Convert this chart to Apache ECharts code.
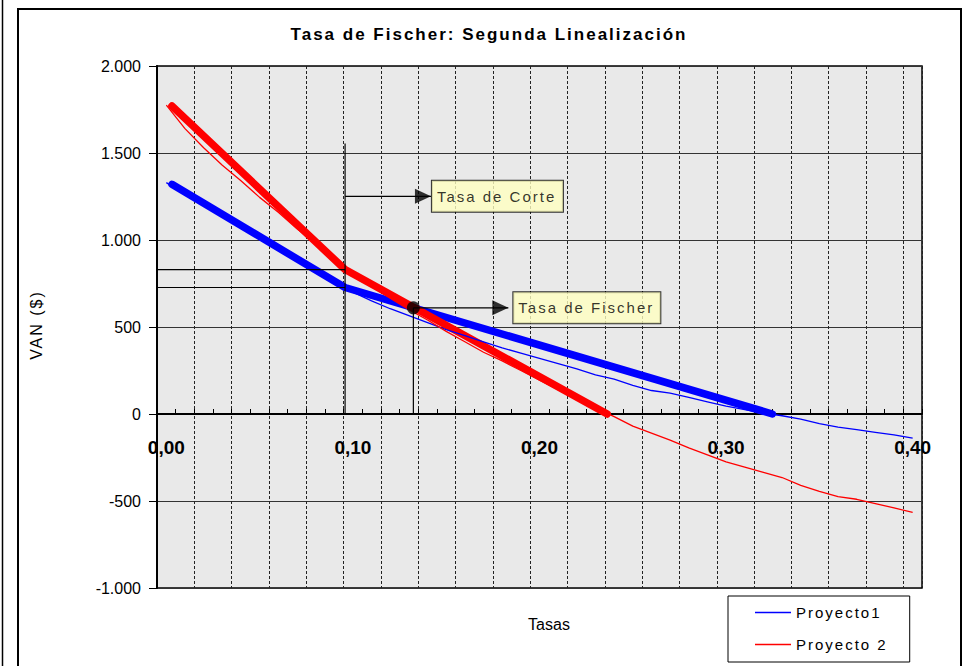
<!DOCTYPE html>
<html>
<head>
<meta charset="utf-8">
<script src="https://cdn.jsdelivr.net/npm/echarts@6/dist/echarts.min.js"></script>
<style>
  html, body { margin: 0; padding: 0; background: #fff; }
  #chart { width: 967px; height: 666px; }
  /* texts set in the "spaced" family get wider letter spacing */
  #chart text[style*="sans-serif"],
  #chart text[font-family*="sans-serif"] { letter-spacing: 2px; }
</style>
</head>
<body>
<div id="chart"></div>
<script>
// Discount rates (x categories)
const rates = [
  0.00, 0.01, 0.02, 0.03, 0.04, 0.05, 0.06, 0.07, 0.08, 0.09,
  0.10, 0.11, 0.12, 0.13, 0.14, 0.15, 0.16, 0.17, 0.18, 0.19,
  0.20, 0.21, 0.22, 0.23, 0.24, 0.25, 0.26, 0.27, 0.28, 0.29,
  0.30, 0.31, 0.32, 0.33, 0.34, 0.35, 0.36, 0.37, 0.38, 0.39, 0.40
];

// Net present value of each project at every rate
const vanProyecto1 = [
  1330, 1262, 1200, 1135, 1070, 1005, 940, 878, 815, 755,
  700, 650, 605, 565, 525, 485, 450, 415, 380, 350,
  320, 290, 260, 225, 200, 165, 135, 120, 95, 70,
  45, 25, 5, -10, -30, -55, -75, -90, -105, -120, -139
];
const vanProyecto2 = [
  1775, 1640, 1530, 1430, 1340, 1245, 1160, 1065, 980, 880,
  800, 735, 665, 600, 540, 475, 415, 355, 305, 250,
  195, 140, 90, 35, -15, -70, -110, -150, -195, -235,
  -275, -305, -335, -365, -410, -445, -475, -490, -515, -540, -566
];

// Second linearization: start, cut rate, internal rate of return
const lineal1X = [0.003, 0.0958, 0.3248];
const lineal1Y = [1320, 727, 0];
const lineal2X = [0.003, 0.0958, 0.2363];
const lineal2Y = [1770, 830, 0];

// Cut-rate marker and Fischer rate (crossing of both linearizations)
const tasaCorte = 0.0958;
const corteTopVan = 1555;
const corteFlechaVan = 1251;
const corteFlechaFin = 0.1418;
const fischerTasa = 0.1324;
const fischerVan = 610;
const fischerFlechaFin = 0.1833;

// Y-axis ticks and their labels
const yTicks = [-1000, -500, 0, 500, 1000, 1500, 2000];
const yTickLabels = ['-1.000', '-500', '0', '500', '1.000', '1.500', '2.000'];

const rateLabels = rates.map(r => r.toFixed(2).replace('.', ','));
const FONT = 'Liberation Sans, Arial';            // plain lettering
const FONT_SP = 'Liberation Sans, sans-serif';    // spaced lettering

const pairs = (xs, ys) => xs.map((x, i) => [x, ys[i]]);

const chart = echarts.init(document.getElementById('chart'), null, { renderer: 'svg' });

const thin = (name, vals, color) => ({
  name, type: 'line', xAxisIndex: 1, yAxisIndex: 0,
  data: pairs(rates, vals), symbol: 'none', z: 5,
  lineStyle: { color, width: 1.3 }, itemStyle: { color }
});
const thick = (name, xs, ys, color, z) => ({
  name, type: 'line', xAxisIndex: 1, yAxisIndex: 0,
  data: pairs(xs, ys), symbol: 'none', z,
  lineStyle: { color, width: 7.5, cap: 'round', join: 'round' }, itemStyle: { color }
});
const guide = (data) => ({
  type: 'line', xAxisIndex: 1, yAxisIndex: 0, data, symbol: 'none', z: 6,
  lineStyle: { color: '#000', width: 1.2 }, silent: true
});
const head = (x, y, text, dist, w) => ({
  type: 'scatter', xAxisIndex: 1, yAxisIndex: 0, z: 8, silent: true,
  data: [{
    value: [x, y],
    symbol: 'triangle', symbolSize: [15, 16], symbolRotate: -90, symbolOffset: [-8, 0],
    itemStyle: { color: '#000' },
    label: {
      show: true, position: 'right', distance: dist, formatter: text,
      backgroundColor: '#ffffc0', borderColor: '#000', borderWidth: 1,
      padding: [5, 4, 5, 5], width: w, height: 21, lineHeight: 21,
      color: '#000', fontSize: 15, fontFamily: FONT_SP
    }
  }]
});

chart.setOption({
  animation: false,
  backgroundColor: '#fff',
  grid: {
    left: 157, top: 66, right: 45, bottom: 78, show: true,
    backgroundColor: '#e9e9e9', borderColor: '#000', borderWidth: 1.5
  },
  xAxis: [
    {
      type: 'category', data: rateLabels, boundaryGap: true, position: 'bottom',
      offset: -174,
      axisLine: { onZero: false, lineStyle: { color: '#000', width: 2 } },
      axisTick: { show: true, inside: true, length: 5, interval: 0, lineStyle: { color: '#000' } },
      axisLabel: { interval: 9, margin: 24, color: '#000', fontSize: 19, fontWeight: 'bold', fontFamily: FONT },
      splitLine: { show: true, interval: 1, lineStyle: { color: '#222', type: [3, 2], width: 1 } }
    },
    { type: 'value', min: -0.005, max: 0.405, show: false }
  ],
  yAxis: {
    type: 'value', min: -1000, max: 2000, interval: 500,
    axisLine: { show: true, onZero: false, lineStyle: { color: '#000', width: 2 } },
    axisTick: { show: true, length: 8, lineStyle: { color: '#000' } },
    axisLabel: {
      margin: 16, color: '#000', fontSize: 16, fontFamily: FONT,
      formatter: v => yTickLabels[yTicks.indexOf(v)]
    },
    splitLine: { show: true, lineStyle: { color: '#333', width: 1 } }
  },
  legend: {
    data: ['Proyecto1', 'Proyecto 2'], orient: 'vertical', left: 728, top: 596,
    icon: 'rect', itemWidth: 36, itemHeight: 1.5, itemGap: 17, padding: [9, 42, 10, 27],
    backgroundColor: '#fff', borderColor: '#000', borderWidth: 1,
    textStyle: { fontSize: 15, lineHeight: 15, color: '#000', fontFamily: FONT_SP }
  },
  series: [
    thick('Linealización Proyecto1', lineal1X, lineal1Y, '#0000ff', 3),
    thick('Linealización Proyecto 2', lineal2X, lineal2Y, '#ff0000', 4),
    thin('Proyecto1', vanProyecto1, '#0000ff'),
    thin('Proyecto 2', vanProyecto2, '#ff0000'),
    guide([[tasaCorte, corteTopVan], [tasaCorte, 0]]),
    guide([[-0.005, lineal2Y[1]], [tasaCorte, lineal2Y[1]]]),
    guide([[-0.005, lineal1Y[1]], [tasaCorte, lineal1Y[1]]]),
    guide([[tasaCorte, corteFlechaVan], [corteFlechaFin, corteFlechaVan]]),
    guide([[fischerTasa, fischerVan], [fischerTasa, 0]]),
    guide([[fischerTasa, fischerVan], [fischerFlechaFin, fischerVan]]),
    head(corteFlechaFin, corteFlechaVan, 'Tasa de Corte', 1, 122),
    head(fischerFlechaFin, fischerVan, 'Tasa de Fischer', 5, 138),
    {
      type: 'scatter', xAxisIndex: 1, yAxisIndex: 0, z: 9, silent: true,
      data: [[fischerTasa, fischerVan]], symbol: 'circle', symbolSize: 13,
      itemStyle: { color: '#000' }
    }
  ],
  graphic: [
    { type: 'rect', silent: true, shape: { x: 18, y: 9, width: 943, height: 680 },
      style: { fill: 'none', stroke: '#000', lineWidth: 2 } },
    { type: 'line', silent: true, shape: { x1: 2.5, y1: 0, x2: 2.5, y2: 666 },
      style: { stroke: '#000', lineWidth: 1.5 } },
    { type: 'text', silent: true, x: 489, y: 34,
      style: { text: 'Tasa de Fischer: Segunda Linealización', fill: '#000',
        fontSize: 17, fontWeight: 'bold', fontFamily: FONT_SP,
        textAlign: 'center', textVerticalAlign: 'middle' } },
    { type: 'text', silent: true, x: 549, y: 624,
      style: { text: 'Tasas', fill: '#000', fontSize: 16, fontFamily: FONT,
        textAlign: 'center', textVerticalAlign: 'middle' } },
    { type: 'text', silent: true, x: 36, y: 325, rotation: Math.PI / 2,
      style: { text: 'VAN ($)', fill: '#000', fontSize: 16, fontFamily: FONT_SP,
        textAlign: 'center', textVerticalAlign: 'middle' } }
  ]
});
</script>
</body>
</html>
